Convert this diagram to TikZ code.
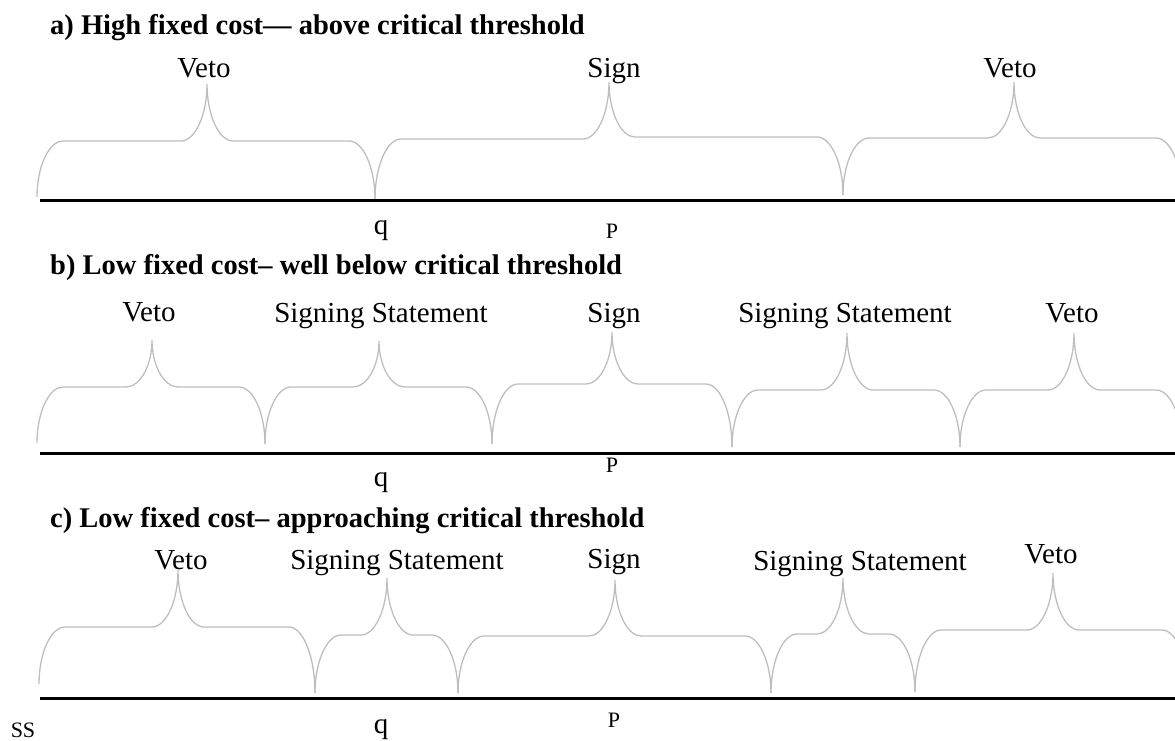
\documentclass[tikz,border=0pt]{standalone}
\usepackage{fontspec}
\setmainfont{Liberation Serif}
\usetikzlibrary{positioning}
\definecolor{BraceGray}{RGB}{190,190,190}
% left x, left foot, left flat, tip x, tip y, right flat, right x, right foot
\newcommand{\curlyspan}[8]{%
  \draw[bracegray] (#1,#2) .. controls (#1,{#2-0.55*(#2-#3)}) and ({#1+12},#3) .. ({#1+26},#3)
    -- ({#4-26},#3) .. controls ({#4-12},#3) and (#4,{#5+0.55*(#3-#5)}) .. (#4,#5)
    .. controls (#4,{#5+0.55*(#6-#5)}) and ({#4+12},#6) .. ({#4+26},#6)
    -- ({#7-26},#6) .. controls ({#7-12},#6) and (#7,{#8-0.55*(#8-#6)}) .. (#7,#8);}

\begin{document}
\begin{tikzpicture}[x=1pt,y=-1pt,
  ttl/.style={anchor=base west,inner sep=0pt,font=\fontsize{28.5}{30}\selectfont\bfseries},
  lbl/.style={anchor=base,inner sep=0pt,font=\fontsize{29}{30}\selectfont},
  mark q/.style={anchor=base,inner sep=0pt,font=\fontsize{29}{30}\selectfont},
  mark p/.style={anchor=base,inner sep=0pt,font=\fontsize{22}{24}\selectfont},
  bracegray/.style={BraceGray,line width=1.3pt},
  axisline/.style={line width=3pt}]
  \clip (0,0) rectangle (1175,741);

  % a)
  \node[ttl] (ttla) at (50,35) {a) High fixed cost— above critical threshold};
  \node[lbl] (vetoa1) at (204,78) {Veto};
  \node[lbl] (signa) at (614,78) {Sign};
  \node[lbl] (vetoa2) at (1010,78) {Veto};
  \curlyspan{37}{197}{141}{207}{84}{141}{375}{199}
  \curlyspan{375}{199}{139}{609}{82}{137}{843}{195}
  \curlyspan{843}{195}{138}{1014}{82}{138}{1182}{197}
  \draw[axisline] (40,200) -- (1175,200);
  \node[mark q] (qa) at (381,234) {q};
  \node[mark p] (pa) at (612,238) {P};

  % b)
  \node[ttl] (ttlb) at (50,274) {b) Low fixed cost– well below critical threshold};
  \node[lbl] (vetob1) at (149,321) {Veto};
  \node[lbl] (ssb1) at (381,322) {Signing Statement};
  \node[lbl] (signb) at (614,322) {Sign};
  \node[lbl] (ssb2) at (845,322) {Signing Statement};
  \node[lbl] (vetob2) at (1072,322) {Veto};
  \curlyspan{37}{443}{387}{152}{340}{387}{265}{444}
  \curlyspan{265}{444}{387}{379}{341}{387}{492}{444}
  \curlyspan{492}{444}{384}{612}{332}{384}{732}{447}
  \curlyspan{732}{447}{390}{847}{333}{390}{960}{447}
  \curlyspan{960}{447}{390}{1074}{333}{390}{1182}{447}
  \draw[axisline] (40,453) -- (1175,453);
  \node[mark q] (qb) at (381,486) {q};
  \node[mark p] (pb) at (612,472) {P};

  % c)
  \node[ttl] (ttlc) at (50,527) {c) Low fixed cost– approaching critical threshold};
  \node[lbl] (vetoc1) at (181,569) {Veto};
  \node[lbl] (ssc1) at (397,569) {Signing Statement};
  \node[lbl] (signc) at (614,568) {Sign};
  \node[lbl] (ssc2) at (860,570) {Signing Statement};
  \node[lbl] (vetoc2) at (1051,563) {Veto};
  \curlyspan{39}{684}{627}{178}{570}{627}{315}{693}
  \curlyspan{315}{693}{635}{387}{578}{635}{458}{693}
  \curlyspan{458}{693}{636}{615}{580}{636}{771}{693}
  \curlyspan{771}{693}{634}{843}{578}{634}{915}{692}
  \curlyspan{915}{692}{630}{1053}{573}{630}{1188}{692}
  \draw[axisline] (40,698) -- (1175,698);
  \node[mark q] (qc) at (381,733) {q};
  \node[mark p] (pc) at (614,727) {P};
  \node[mark p] (ssmark) at (23,737) {SS};
\end{tikzpicture}
\end{document}
